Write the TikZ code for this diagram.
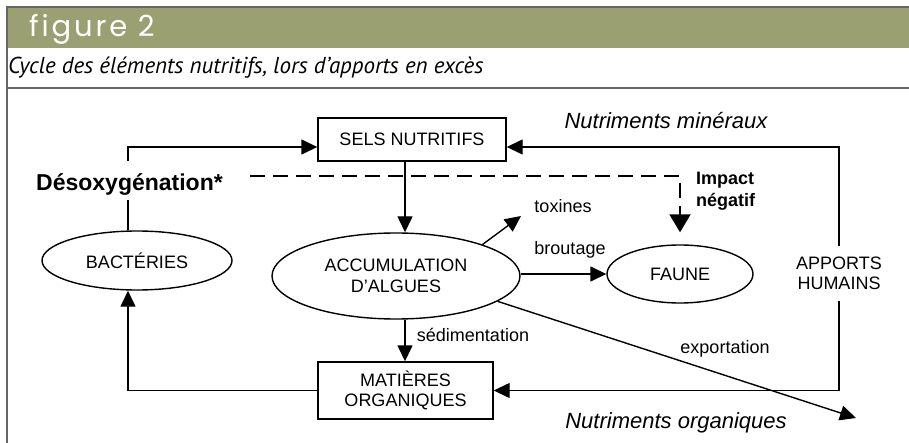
\documentclass[tikz,border=0pt]{standalone}
\usepackage{fontspec}
\setmainfont{Liberation Sans}
\newfontfamily\capfont{PT Sans}
\newfontfamily\hdrfont[LetterSpace=10]{Poppins}
\usetikzlibrary{shapes.geometric,arrows.meta}
\definecolor{olive}{HTML}{9BA072}
\definecolor{rule}{HTML}{666666}
\tikzset{
  diag/.style={font=\fontsize{18}{20.5}\selectfont, align=center},
  boxnode/.style={diag, draw, line width=1.4pt, inner sep=0pt},
  ovalnode/.style={diag, draw, ellipse, line width=1.4pt, inner sep=0pt},
  lbl/.style={font=\fontsize{18}{20.5}\selectfont, inner sep=0pt},
  conn/.style={line width=1.4pt},
  arr/.style={conn, -{Triangle[length=16pt,width=15pt]}},
  dasharr/.style={line width=2pt, dash pattern=on 15pt off 8pt, -{Triangle[length=18pt,width=21pt]}},
}
\begin{document}
\begin{tikzpicture}[x=1pt,y=-1pt]
\useasboundingbox (0,0) rectangle (909,443);
% header band and frame rules
\fill[olive] (7,8) rectangle (909,48);
\draw[rule, line width=2pt] (6,7.5) -- (909,7.5);
\draw[rule, line width=2pt] (7,88.5) -- (909,88.5);
\draw[rule, line width=2pt] (7,6.5) -- (7,443);
\node[anchor=west, text=white, font=\hdrfont\fontsize{29}{29}\selectfont, inner sep=0pt] (hdr) at (29,29) {figure 2};
\node[anchor=west, font=\capfont\itshape\fontsize{23}{23}\selectfont, inner sep=0pt] (cap) at (8,68) {Cycle des éléments nutritifs, lors d’apports en excès};

% nodes
\node[boxnode, minimum width=188pt, minimum height=43pt] (sels) at (412,139.5) {SELS NUTRITIFS};
\node[boxnode, minimum width=175pt, minimum height=57pt] (mat) at (405.5,390.5) {MATIÈRES\\ORGANIQUES};
\node[ovalnode, minimum width=190pt, minimum height=59pt] (bact) at (137,260.5) {BACTÉRIES};
\node[ovalnode, minimum width=248pt, minimum height=86pt] (acc) at (396,276) {ACCUMULATION\\D’ALGUES};
\node[ovalnode, minimum width=146pt, minimum height=58pt] (faune) at (680,274) {FAUNE};
\node[diag, inner xsep=0pt, inner ysep=11pt] (apports) at (839,273.5) {APPORTS\\HUMAINS};
\node[font=\bfseries\fontsize{23}{23}\selectfont, inner sep=0pt] (desox) at (129.5,185) {Désoxygénation*};
\node[font=\bfseries\fontsize{18}{22}\selectfont, align=left, anchor=west, inner sep=0pt] (impact) at (696,191) {Impact\\négatif};
\node[lbl, font=\itshape\fontsize{22}{22}\selectfont] (nmin) at (666,121) {Nutriments minéraux};
\node[lbl, font=\itshape\fontsize{22}{22}\selectfont] (norg) at (676,423) {Nutriments organiques};
\node[lbl] (tox) at (563,206) {toxines};
\node[lbl] (brout) at (570,250) {broutage};
\node[lbl] (sedim) at (473,335) {sédimentation};
\node[lbl] (export) at (725,349) {exportation};

% helper coordinates
\coordinate (colx) at (405,0);
\coordinate (ya) at (0,147);
\coordinate (dtop) at (128,161);
\coordinate (dbot) at (128,200);
\coordinate (dstart) at (250,176);
\coordinate (toxtip) at (521,216);
\coordinate (exptip) at (856,418);

% connectors
\draw[arr] (dtop) |- (sels.west |- ya);
\draw[conn] (dbot) -- (dbot |- bact.north);
\draw[arr] (colx |- sels.south) -- (colx |- acc.north);
\draw[dasharr] (dstart) -| ([yshift=12pt]faune.north);
\draw[arr] (acc.20) -- (toxtip);
\draw[arr] (acc.east |- faune.west) -- (faune.west);
\draw[arr] (acc.-14) -- (exptip);
\draw[arr] (colx |- acc.south) -- (colx |- mat.north);
\draw[arr] (mat.west) -| (dtop |- bact.south);
\draw[arr] (apports.north) |- (sels.east |- ya);
\draw[arr] (apports.south) |- (mat.east);
\end{tikzpicture}
\end{document}
